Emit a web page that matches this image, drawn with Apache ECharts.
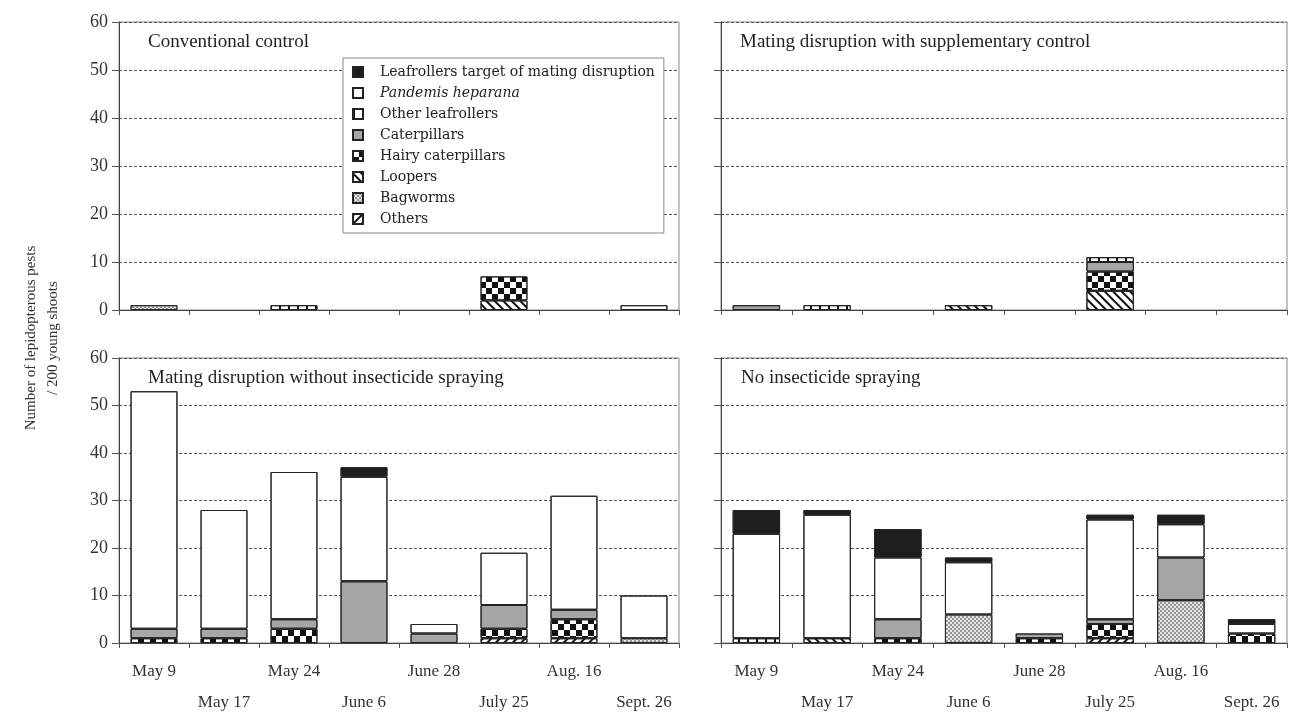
<!DOCTYPE html>
<html>
<head>
<meta charset="utf-8">
<script src="https://cdn.jsdelivr.net/npm/echarts@6/dist/echarts.min.js"></script>
<style>
html,body{margin:0;padding:0;background:#fff;}
#chart{width:1289px;height:718px;}
</style>
</head>
<body>
<div id="chart"></div>
<script>
// ---------- DATA ----------
const dates = ['May 9', 'May 17', 'May 24', 'June 6', 'June 28', 'July 25', 'Aug. 16', 'Sept. 26'];
const speciesNames = ['Leafrollers target of mating disruption', 'Pandemis heparana', 'Other leafrollers',
  'Caterpillars', 'Hairy caterpillars', 'Loopers', 'Bagworms', 'Others'];
const panelTitles = ['Conventional control', 'Mating disruption with supplementary control',
  'Mating disruption without insecticide spraying', 'No insecticide spraying'];
const yTicks = [0, 10, 20, 30, 40, 50, 60];

// rows follow speciesNames order; columns follow dates
const conventionalControl = [
  [0, 0, 0, 0, 0, 0, 0, 0],
  [0, 0, 0, 0, 0, 0, 0, 1],
  [0, 0, 1, 0, 0, 0, 0, 0],
  [0, 0, 0, 0, 0, 0, 0, 0],
  [0, 0, 0, 0, 0, 5, 0, 0],
  [0, 0, 0, 0, 0, 2, 0, 0],
  [1, 0, 0, 0, 0, 0, 0, 0],
  [0, 0, 0, 0, 0, 0, 0, 0]
];
const disruptionSupplementary = [
  [0, 0, 0, 0, 0, 0, 0, 0],
  [0, 0, 0, 0, 0, 0, 0, 0],
  [0, 1, 0, 0, 0, 1, 0, 0],
  [1, 0, 0, 0, 0, 2, 0, 0],
  [0, 0, 0, 0, 0, 4, 0, 0],
  [0, 0, 0, 1, 0, 4, 0, 0],
  [0, 0, 0, 0, 0, 0, 0, 0],
  [0, 0, 0, 0, 0, 0, 0, 0]
];
const disruptionNoSpray = [
  [0, 0, 0, 2, 0, 0, 0, 0],
  [50, 25, 31, 22, 2, 11, 24, 9],
  [0, 0, 0, 0, 0, 0, 0, 0],
  [2, 2, 2, 13, 2, 5, 2, 0],
  [1, 1, 3, 0, 0, 2, 4, 0],
  [0, 0, 0, 0, 0, 0, 0, 0],
  [0, 0, 0, 0, 0, 0, 0, 1],
  [0, 0, 0, 0, 0, 1, 1, 0]
];
const noSpray = [
  [5, 1, 6, 1, 0, 1, 2, 1],
  [22, 26, 13, 11, 0, 21, 7, 2],
  [1, 0, 0, 0, 0, 0, 0, 0],
  [0, 0, 4, 0, 1, 1, 9, 0],
  [0, 0, 1, 0, 1, 3, 0, 2],
  [0, 1, 0, 0, 0, 0, 0, 0],
  [0, 0, 0, 6, 0, 0, 9, 0],
  [0, 0, 0, 0, 0, 1, 0, 0]
];
const panels = [conventionalControl, disruptionSupplementary, disruptionNoSpray, noSpray];

// ---------- STYLES ----------
const SERIF = '"Liberation Serif", "DejaVu Serif", serif';
const WIDESERIF = '"DejaVu Serif", "Liberation Serif", serif';
const noDecal = {color: 'rgba(0,0,0,0)'};
const speciesStyles = [
  {color: '#1e1e1e', decal: noDecal},
  {color: '#ffffff', decal: noDecal},
  {color: '#ffffff', decal: {symbol: 'rect', symbolSize: 1, color: '#111', dashArrayX: [2, 7], dashArrayY: [10, 0]}},
  {color: '#a6a6a6', decal: noDecal},
  {color: '#ffffff', decal: {symbol: 'rect', symbolSize: 1, color: '#111', dashArrayX: [[6, 6], [0, 6, 6, 0]], dashArrayY: [6, 0]}},
  {color: '#ffffff', decal: {symbol: 'rect', symbolSize: 1, color: '#111', dashArrayX: [1, 0], dashArrayY: [1.5, 4], rotation: Math.PI / 4}},
  {color: '#e6e6e6', decal: {symbol: 'rect', symbolSize: 1, color: '#959595', dashArrayX: [[2, 2], [0, 2, 2, 0]], dashArrayY: [2, 0]}},
  {color: '#ffffff', decal: {symbol: 'rect', symbolSize: 1, color: '#111', dashArrayX: [1, 0], dashArrayY: [1.5, 4], rotation: -Math.PI / 4}}
];

// ---------- LAYOUT ----------
const grids = [
  {left: 119, top: 22, width: 560, height: 288},
  {left: 721, top: 22, width: 566, height: 288},
  {left: 119, top: 358, width: 560, height: 289},
  {left: 721, top: 358, width: 566, height: 289}
];
const titlePos = [[148, 33], [740, 33], [148, 369], [741, 369]];

const xAxes = grids.map((g, i) => ({
  type: 'category', gridIndex: i, data: dates,
  axisLine: {lineStyle: {color: '#444', width: 1}},
  axisTick: {show: true, length: 5, lineStyle: {color: '#555'}},
  axisLabel: {
    show: i >= 2, interval: 0, margin: 13, fontFamily: SERIF, fontSize: 17, color: '#333', lineHeight: 31,
    formatter: (v, idx) => (idx % 2 === 1 ? '\n' + v : v)
  }
}));
const yAxes = grids.map((g, i) => ({
  type: 'value', gridIndex: i, min: 0, max: 60, interval: 10,
  axisLine: {show: true, lineStyle: {color: '#444', width: 1}},
  axisTick: {show: true, length: 7, lineStyle: {color: '#555'}},
  axisLabel: {show: i % 2 === 0, margin: 11, fontFamily: SERIF, fontSize: 18, color: '#333',
    formatter: v => (yTicks.indexOf(v) >= 0 ? String(v) : '')},
  splitLine: {show: true, lineStyle: {color: '#555', type: [3, 2], width: 1}}
}));

const series = [];
panels.forEach((panel, p) => {
  // stack bottom-to-top in reverse legend order
  for (let s = speciesNames.length - 1; s >= 0; s--) {
    series.push({
      type: 'bar', name: speciesNames[s], xAxisIndex: p, yAxisIndex: p, stack: 'p' + p,
      barCategoryGap: '33%',
      data: panel[s].map(v => (v === 0 ? null : v)),
      itemStyle: {color: speciesStyles[s].color, borderColor: '#222', borderWidth: 1, decal: speciesStyles[s].decal},
      emphasis: {disabled: true}
    });
  }
});

const option = {
  backgroundColor: '#fff',
  animation: false,
  aria: {enabled: true, decal: {show: true}},
  grid: grids.map(g => Object.assign({show: true, borderColor: '#888', borderWidth: 1, backgroundColor: 'transparent', containLabel: false}, g)),
  xAxis: xAxes,
  yAxis: yAxes,
  title: panelTitles.map((t, i) => ({
    text: t, left: titlePos[i][0], top: titlePos[i][1], padding: 0,
    textStyle: {fontFamily: SERIF, fontSize: 19, fontWeight: 'normal', color: '#222'}
  })),
  legend: {
    data: speciesNames, orient: 'vertical', left: 343, top: 58, width: 330,
    backgroundColor: '#fff', borderColor: '#888', borderWidth: 1, padding: [7, 9, 7, 9],
    itemWidth: 10, itemHeight: 10, itemGap: 7, selectedMode: false,
    icon: 'rect',
    textStyle: {fontFamily: WIDESERIF, fontSize: 14, color: '#222', padding: [0, 0, 0, 12],
      rich: {i: {fontFamily: WIDESERIF, fontSize: 14, fontStyle: 'italic', color: '#222'}}},
    formatter: n => (n === 'Pandemis heparana' ? '{i|' + n + '}' : n)
  },
  graphic: [{
    type: 'text', x: 42, y: 338, rotation: Math.PI / 2,
    style: {text: 'Number of lepidopterous pests\n/ 200 young shoots', textAlign: 'center', textVerticalAlign: 'middle',
      font: '15px ' + SERIF, fill: '#333', lineHeight: 22}
  }],
  series: series
};

const chart = echarts.init(document.getElementById('chart'), null, {renderer: 'canvas'});
chart.setOption(option);
</script>
</body>
</html>
